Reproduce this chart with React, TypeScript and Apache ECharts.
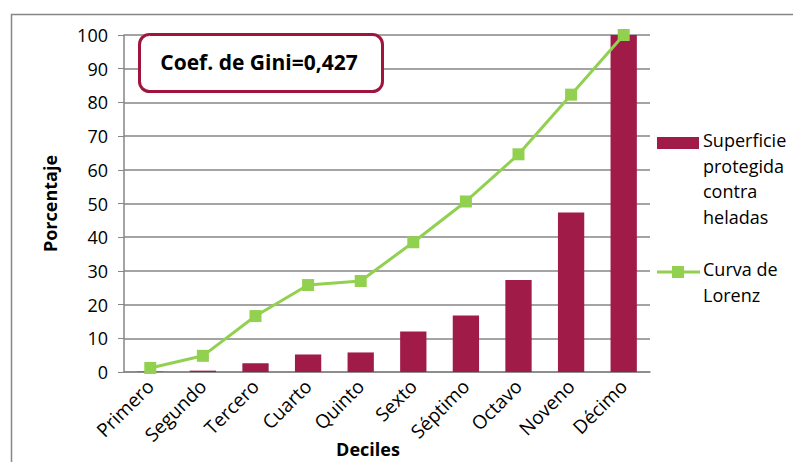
import React, { useEffect, useRef } from "react";
import * as echarts from "echarts";

const categories = ["Primero", "Segundo", "Tercero", "Cuarto", "Quinto", "Sexto", "Séptimo", "Octavo", "Noveno", "Décimo"];
const superficie = [0.1, 0.4, 2.6, 5.2, 5.8, 12.0, 16.8, 27.3, 47.3, 100];
const lorenz = [1.2, 4.8, 16.6, 25.8, 27.0, 38.5, 50.6, 64.6, 82.3, 100];
const yTicks = { min: 0, max: 100, interval: 10 };
const seriesNames = ["Superficie protegida contra heladas", "Curva de Lorenz"];
const legendLines1 = ["Superficie", "protegida", "contra", "heladas"];
const legendLines2 = ["Curva de", "Lorenz"];
const giniText = "Coef. de Gini=0,427";

const BAR = "#A11B48";
const GREEN = "#92D050";
const FONT = "Open Sans";

export default function App() {
  const ref = useRef<HTMLDivElement>(null);
  useEffect(() => {
    if (!ref.current) return;
    const chart = echarts.init(ref.current, null, { renderer: "svg" });
    const textEls: any[] = [];
    legendLines1.forEach((t, i) => {
      textEls.push({
        type: "text",
        left: 703,
        top: 131 + i * 25.5,
        style: { text: t, font: `18px '${FONT}'`, fill: "#000" },
      });
    });
    legendLines2.forEach((t, i) => {
      textEls.push({
        type: "text",
        left: 703,
        top: 260 + i * 25.5,
        style: { text: t, font: `18px '${FONT}'`, fill: "#000" },
      });
    });
    chart.setOption({
      animation: false,
      backgroundColor: "#fff",
      grid: { left: 124, right: 143, top: 35, bottom: 90, containLabel: false, outerBoundsMode: "none" },
      xAxis: {
        type: "category",
        data: categories,
        name: "Deciles",
        nameLocation: "middle",
        nameGap: 68,
        nameMoveOverlap: false,
        nameTextStyle: { fontFamily: FONT, fontSize: 18, fontWeight: "bold", color: "#000", padding: [0, 38, 0, 0] },
        axisLine: { lineStyle: { color: "#868686", width: 1.5 } },
        axisTick: { show: false },
        axisLabel: { rotate: 45, fontFamily: FONT, fontSize: 19, color: "#000", margin: 11, interval: 0 },
      },
      yAxis: {
        type: "value",
        min: yTicks.min,
        max: yTicks.max,
        interval: yTicks.interval,
        name: "Porcentaje",
        nameLocation: "middle",
        nameGap: 65,
        nameRotate: 90,
        nameMoveOverlap: false,
        nameTextStyle: { fontFamily: FONT, fontSize: 18, fontWeight: "bold", color: "#000" },
        axisLine: { show: true, lineStyle: { color: "#868686", width: 1.5 } },
        axisTick: { show: true, length: 6, lineStyle: { color: "#868686" } },
        axisLabel: { fontFamily: FONT, fontSize: 18, color: "#000", margin: 16 },
        splitLine: { lineStyle: { color: "#868686", width: 1.5 } },
      },
      series: [
        {
          name: seriesNames[0],
          type: "bar",
          data: superficie,
          barWidth: "50%",
          itemStyle: { color: BAR },
        },
        {
          name: seriesNames[1],
          type: "line",
          data: lorenz,
          symbol: "rect",
          symbolSize: 12,
          lineStyle: { color: GREEN, width: 3 },
          itemStyle: { color: GREEN },
          z: 5,
        },
      ],
      graphic: [
        {
          type: "rect",
          left: 9,
          top: 12,
          shape: { width: 820, height: 480 },
          style: { fill: "none", stroke: "#868686", lineWidth: 1.5 },
          z: -1,
        },
        {
          type: "rect",
          left: 138,
          top: 33,
          shape: { width: 243, height: 57, r: 10 },
          style: { fill: "#fff", stroke: "#A0153E", lineWidth: 3 },
          z: 10,
        },
        {
          type: "text",
          x: 259,
          y: 62,
          style: {
            text: giniText,
            font: `bold 21px '${FONT}'`,
            fill: "#000",
            align: "center",
            verticalAlign: "middle",
          },
          z: 11,
        },
        {
          type: "rect",
          shape: { x: 657, y: 137, width: 42, height: 12 },
          style: { fill: BAR },
        },
        {
          type: "line",
          shape: { x1: 657, y1: 272, x2: 700, y2: 272 },
          style: { stroke: GREEN, lineWidth: 3 },
        },
        {
          type: "rect",
          shape: { x: 672, y: 266, width: 12, height: 12 },
          style: { fill: GREEN },
        },
        ...textEls,
      ],
    });
    return () => chart.dispose();
  }, []);
  return <div ref={ref} style={{ position: "fixed", left: 0, top: 0, width: 793, height: 462 }} />;
}
